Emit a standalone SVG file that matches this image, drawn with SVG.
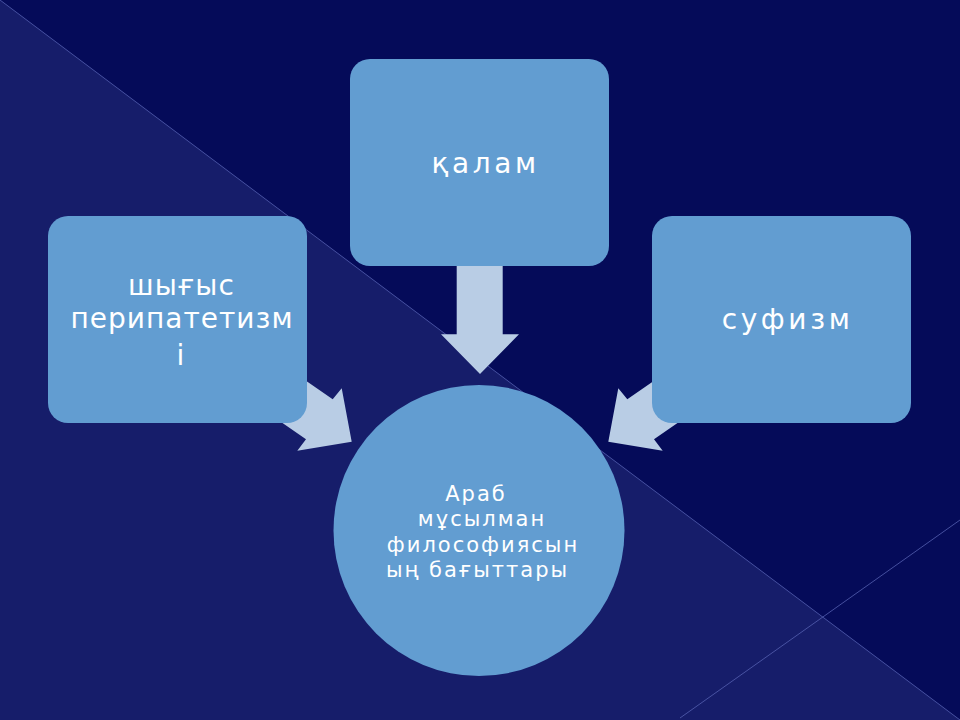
<svg xmlns="http://www.w3.org/2000/svg" width="960" height="720" viewBox="0 0 960 720">
<defs>
<style>
.box{fill:#629DD1;}
.arrow{fill:#B9CDE5;}
.t{font-family:"DejaVu Sans","Liberation Sans",sans-serif;fill:#FFFFFF;text-anchor:middle;}
.big{font-size:28px;letter-spacing:1px;}
.wide{letter-spacing:3.6px;}
.small{font-size:21px;letter-spacing:2px;}
.bgline{stroke:#5560B0;stroke-width:1;fill:none;opacity:0.8;}
</style>
</defs>
<g id="background">
<rect x="0" y="0" width="960" height="720" fill="#050B59"/>
<polygon points="0,0 960,720 0,720" fill="#161D6A"/>
<line class="bgline" x1="0" y1="0" x2="960" y2="720"/>
<line class="bgline" x1="960" y1="520" x2="680" y2="718"/>
</g>
<g id="connectors">
<polygon class="arrow" points="456.7,240 502.7,240 502.7,334.3 519,334.3 480,374 441,334.3 456.7,334.3"/>
<polygon class="arrow" points="299.8,376.5 332.7,399.3 341.7,388.3 351.7,441.7 297.3,450.7 306,439.3 273.1,416.5"/>
<polygon class="arrow" points="660.2,376.5 627.3,399.3 618.3,388.3 608.3,441.7 662.7,450.7 654,439.3 686.9,416.5"/>
</g>
<g id="node-kalam">
<rect class="box" x="350" y="59" width="259" height="207" rx="20" ry="20"/>
<text class="t big wide" x="485.5" y="173">қалам</text>
</g>
<g id="node-peripatetism">
<rect class="box" x="48" y="216" width="259" height="207" rx="20" ry="20"/>
<text class="t big" x="181.5" y="295">шығыс</text>
<text class="t big" x="182" y="328">перипатетизм</text>
<text class="t big" x="181" y="365">і</text>
</g>
<g id="node-sufism">
<rect class="box" x="652" y="216" width="259" height="207" rx="20" ry="20"/>
<text class="t big wide" x="787.5" y="328.5">суфизм</text>
</g>
<g id="node-center">
<circle class="box" cx="479" cy="530.5" r="145.5"/>
<text class="t small" x="476" y="501">Араб</text>
<text class="t small" x="482" y="526">мұсылман</text>
<text class="t small" x="483" y="551.5">философиясын</text>
<text class="t small" x="477.5" y="577">ың бағыттары</text>
</g>
</svg>
